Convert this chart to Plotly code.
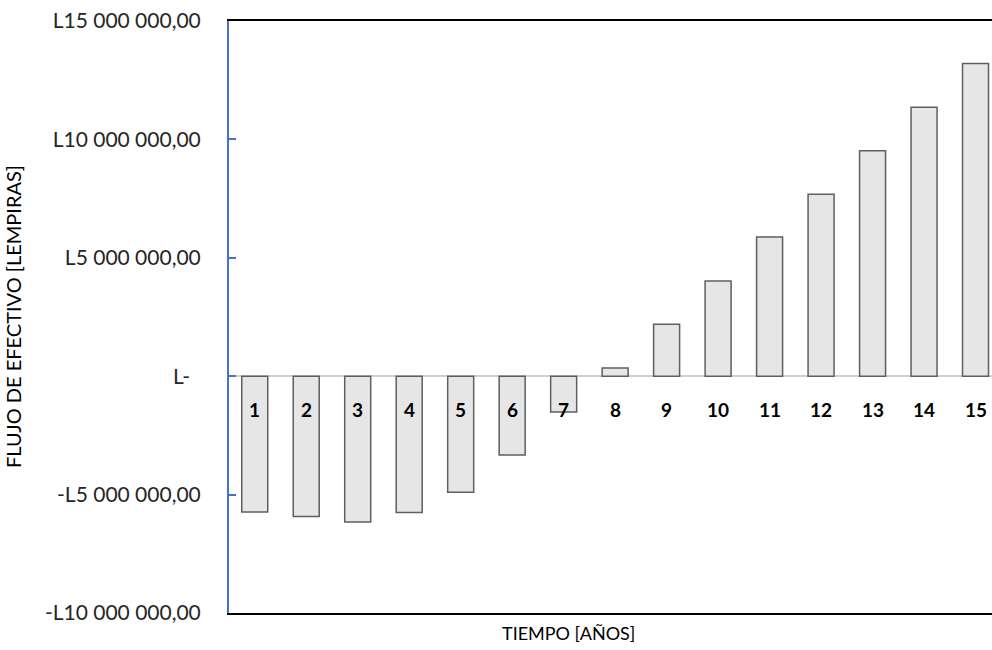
import plotly.graph_objects as go

years = list(range(1, 16))
year_labels = [str(y) for y in years]
cash_flow = [-5.73e6, -5.92e6, -6.16e6, -5.76e6, -4.90e6, -3.33e6, -1.51e6,
             0.35e6, 2.19e6, 4.02e6, 5.88e6, 7.68e6, 9.52e6, 11.36e6, 13.20e6]
tick_vals = [-10e6, -5e6, 0, 5e6, 10e6, 15e6]
tick_text = ["-L10 000 000,00", "-L5 000 000,00", "L-\u00a0\u00a0",
             "L5 000 000,00", "L10 000 000,00", "L15 000 000,00"]
x_title = "TIEMPO [AÑOS]"
y_title = "FLUJO DE EFECTIVO [LEMPIRAS]"

FONT = "Lato"

fig = go.Figure()
fig.add_trace(go.Bar(
    x=years, y=cash_flow,
    marker=dict(color="#E6E6E6", line=dict(color="#5F5F5F", width=1.5)),
    hoverinfo="skip",
))

for y, lab in zip(years, year_labels):
    fig.add_annotation(x=y, y=0, xref="x", yref="y", text="<b>%s</b>" % lab,
                       showarrow=False, yanchor="middle", yshift=-33,
                       font=dict(family=FONT, size=19, color="#000000"))

fig.add_annotation(x=(568 - 229) / 763, y=0, xref="paper", yref="paper",
                   text=x_title, showarrow=False, yanchor="middle", yshift=-20,
                   font=dict(family=FONT, size=18, color="#000000"))
fig.add_annotation(x=0, y=0.5, xref="paper", yref="paper", text=y_title,
                   showarrow=False, textangle=-90, xanchor="center", xshift=-216,
                   font=dict(family=FONT, size=20, color="#000000"))

fig.update_layout(
    width=992, height=650,
    margin=dict(l=229, r=0, t=21, b=37),
    paper_bgcolor="white", plot_bgcolor="white",
    showlegend=False, bargap=0.495,
    font=dict(family=FONT, size=21, color="#262626"),
    xaxis=dict(range=[0.5, 15.32], showticklabels=False, ticks="",
               showgrid=False, zeroline=False,
               showline=True, linecolor="#000000", linewidth=2, mirror=True),
    yaxis=dict(range=[-10e6, 15e6], tickvals=tick_vals, ticktext=tick_text,
               ticks="inside", ticklen=7, tickcolor="#4472C4", tickwidth=1.5,
               showgrid=False, zeroline=True, zerolinecolor="#D0D0D0", zerolinewidth=2,
               showline=True, linecolor="#4472C4", linewidth=2,
               ticklabelstandoff=22,
               tickfont=dict(family=FONT, size=21, color="#262626")),
)

fig.write_html("out.html")
